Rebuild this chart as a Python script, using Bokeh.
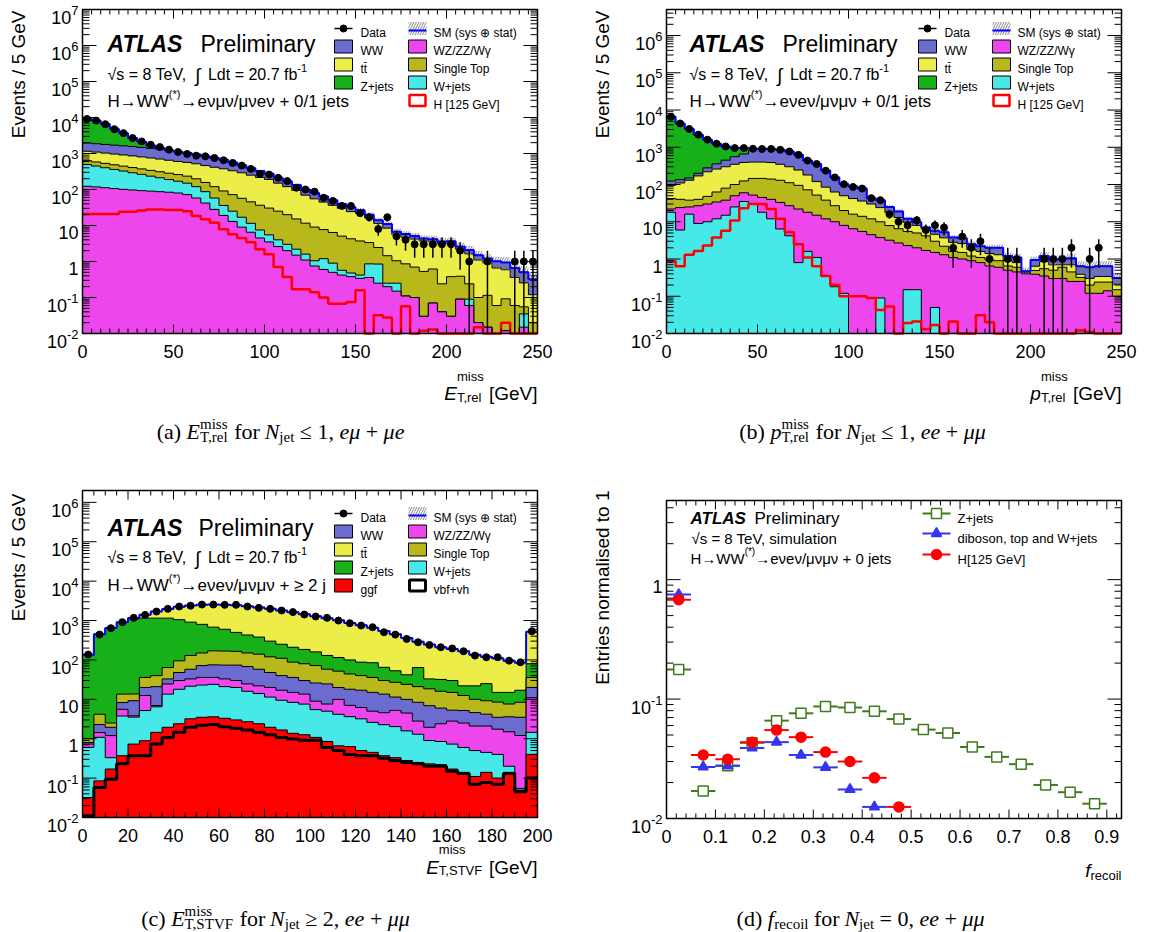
import math
import numpy as np
from bokeh.plotting import figure
from bokeh.models import Range1d, Label, LogScale
from bokeh.layouts import column, row
from bokeh.embed import file_html
from bokeh.resources import INLINE

SANS = "Liberation Sans"
SERIF = "Liberation Serif"

# ---------------- colours ----------------
C_WW = "#6b6bd0"
C_WZ = "#ec46ec"
C_TT = "#eded4a"
C_ST = "#b8b81c"
C_ZJ = "#18b018"
C_WJ = "#46e8e8"
C_GGF = "#ff0000"

# ---------------- panel (a): E_T,rel miss, N_jet <= 1, e mu ----------------
a_edges = np.arange(0, 255, 5)
a_data = [9140, 8220, 6510, 4740, 3680, 2680, 2170, 1750, 1510, 1280,
          1100, 970, 871, 835, 751, 648, 547, 462, 373, 272,
          260, 211, 171, 112, 100, 87, 59, 48, 35, 35,
          22, 17, 8, 17, 5, 4, 3, 3, 3, 3,
          3, 2, 1, 0, 1, 0, 0, 1, 1, 1]
a_wz = [123, 118, 112, 106, 101, 97, 93, 90, 87, 84,
        80, 72, 58, 42, 28, 19, 13, 9, 6.5, 4.5,
        3.5, 2.6, 2.0, 1.5, 1.1, 0.75, 0.6, 0.5, 0.42, 0.38,
        0.34, 0.36, 0.25, 0.2, 0.15, 0.11, 0.1, 0.03, 0.07, 0.04,
        0.03, 0.09, 0.06, 0.02, 0.015, 0.01, 0.012, 0.01, 0.015, 0.01]
a_wjets = [370, 330, 290, 255, 225, 195, 170, 145, 125, 105,
           90, 78, 62, 45, 30, 17, 12, 8, 5, 3,
           2, 1.4, 1.0, 0.7, 0.5, 0.3, 0.6, 0.4, 0.15, 0.1,
           0.08, 0.5, 0.6, 0.05, 0.1, 0, 0, 0, 0, 0,
           0, 0, 0.03, 0, 0, 0, 0, 0, 0.02, 0]
a_stop = [140, 135, 130, 125, 120, 115, 110, 105, 100, 95,
          90, 85, 78, 70, 62, 55, 47, 40, 34, 29,
          25, 21, 17, 13, 10, 8, 6.5, 5.5, 4.5, 3.8,
          3.3, 2.5, 1.6, 1.2, 0.8, 0.75, 0.6, 0.5, 0.55, 0.2,
          0.35, 0.3, 0.15, 0.08, 0.1, 0.05, 0.08, 0.05, 0.02, 0.01]
a_ttbar = [520, 510, 495, 480, 465, 450, 430, 410, 390, 365,
           340, 330, 320, 305, 295, 285, 260, 235, 205, 180,
           160, 125, 100, 80, 58, 46, 37, 30, 25, 20,
           18, 13, 9, 7, 4.5, 3.8, 3.5, 3.2, 3.0, 2.9,
           2.8, 1.8, 1.4, 1.0, 0.8, 0.6, 0.5, 0.3, 0.2, 0.1]
a_ww = [800, 780, 760, 740, 720, 700, 670, 640, 610, 560,
        510, 470, 420, 380, 340, 290, 230, 180, 140, 110,
        85, 62, 50, 38, 30, 25, 19, 14, 9, 8,
        5, 3.5, 2.5, 2.5, 1.2, 1.1, 0.9, 0.6, 0.5, 0.45,
        0.45, 0.4, 0.45, 0.4, 0.3, 0.35, 0.35, 0.3, 0.25, 0.2]
a_zjets = [7200, 6300, 4800, 3100, 2050, 1120, 640, 280, 110, 30,
           8, 3, 1.5, 1, 0.5, 0.3, 0.2, 0.1, 0, 0,
           0, 0, 0, 0, 0, 0, 0, 0, 0, 0,
           0, 0, 0, 0, 0, 0, 0, 0, 0, 0,
           0, 0, 0, 0, 0, 0, 0, 0, 0, 0]
a_higgs = [21, 21, 21, 21, 24, 24, 26, 28, 28, 27,
           27, 25, 18.5, 15, 12, 7.9, 5.7, 4.5, 3.4, 2.2,
           1.6, 0.7, 0.37, 0.17, 0.17, 0.14, 0.1, 0.067, 0.067, 0.075,
           0.16, 0, 0.032, 0.028, 0, 0.057, 0, 0.012, 0.013, 0,
           0, 0, 0, 0.015, 0, 0, 0.02, 0, 0, 0]
a_unc = [0.10, 0.10, 0.09, 0.09, 0.08, 0.08, 0.08, 0.08, 0.08, 0.08,
         0.08, 0.08, 0.08, 0.08, 0.08, 0.08, 0.08, 0.09, 0.09, 0.09,
         0.10, 0.10, 0.10, 0.11, 0.11, 0.12, 0.12, 0.13, 0.13, 0.14,
         0.15, 0.16, 0.17, 0.18, 0.20, 0.20, 0.22, 0.22, 0.25, 0.25,
         0.25, 0.28, 0.30, 0.30, 0.32, 0.35, 0.40, 0.45, 0.45, 0.45]

# ---------------- panel (b): p_T,rel miss, N_jet <= 1, ee+mumu ----------------
b_edges = np.arange(0, 255, 5)
b_data = [6590, 4350, 3110, 2180, 1600, 1245, 1050, 950, 950, 910,
          900, 900, 855, 770, 625, 440, 356, 235, 155, 102,
          86, 78, 43, 38, 16, 10, 8, 11, 6, 8,
          7, 2, 4, 2, 3, 1, 0, 1, 1, 0,
          0, 1, 1, 1, 2, 0, 1, 2, 0, 0]
b_wjets = [18, 6, 16, 9, 10, 12, 15, 25, 35, 30,
           18, 12, 6.4, 4.2, 0.8, 1.6, 1.1, 0.35, 0.18, 0.12,
           0, 0, 0, 0.09, 0, 0, 0.15, 0.15, 0, 0.05,
           0, 0, 0, 0, 0, 0, 0, 0, 0, 0,
           0, 0, 0, 0, 0, 0, 0, 0, 0, 0]
b_wz = [4, 18, 9, 18, 20, 22, 23, 25, 25, 22,
        27, 28, 26.6, 22.8, 21.2, 16.4, 13.9, 11.65, 9.82, 7.88,
        6.5, 5.5, 4.5, 3.7, 3.2, 2.7, 2.15, 1.85, 1.7, 1.45,
        1.3, 1.1, 1.0, 0.9, 0.8, 0.65, 0.6, 0.5, 0.45, 0.4,
        0.39, 0.35, 0.3, 0.3, 0.25, 0.25, 0.12, 0.12, 0.14, 0.1]
b_stop = [20, 16, 13, 13, 18, 29, 42, 50, 65, 94,
          101, 100, 97, 85, 73, 54, 37, 26, 17, 12,
          9.5, 8.5, 7.5, 6.2, 4.7, 3.8, 3.2, 3.0, 2.5, 1.5,
          0.9, 0.5, 0.5, 0.3, 0.3, 0.3, 0.3, 0.15, 0.15, 0.01,
          0.1, 0.2, 0.2, 0.3, 0.2, 0.07, 0.08, 0.12, 0.1, 0.05]
b_ttbar = [53, 70, 92, 130, 172, 197, 220, 250, 265, 254,
           254, 250, 220, 188, 150, 108, 68, 47, 36, 30,
           26, 22, 18, 14, 10.1, 6.5, 4.2, 3.0, 2.2, 1.6,
           1.5, 1.2, 1.1, 0.6, 0.5, 0.45, 0.4, 0.25, 0.2, 0.01,
           0.15, 0.3, 0.2, 0.1, 0.25, 0.07, 0.1, 0.1, 0.1, 0.06]
b_ww = [29, 25, 20, 30, 60, 100, 150, 210, 270, 450,
        500, 510, 505, 470, 380, 260, 236, 150, 92, 52,
        46, 42, 13, 14, 7, 6, 2.3, 1.7, 0.6, 1.1,
        1.5, 1.0, 1.0, 0.7, 0.6, 0.6, 0.7, 0.3, 0.3, 0.05,
        0.3, 0.35, 0.25, 0.3, 0.3, 0.25, 0.3, 0.3, 0.3, 0.1]
b_zjets = [6466, 4215, 2960, 1980, 1320, 885, 600, 390, 290, 60,
           10, 5, 3, 2, 1, 0.5, 0.3, 0.2, 0.1, 0,
           0, 0, 0, 0, 0, 0, 0, 0, 0, 0,
           0, 0, 0, 0, 0, 0, 0, 0, 0, 0,
           0, 0, 0, 0, 0.05, 0, 0, 0, 0, 0]
b_higgs = [0.88, 0.64, 1.3, 1.65, 2.3, 3.8, 5.7, 10.8, 23, 30,
           30, 22, 12, 5.2, 2.5, 1.1, 0.64, 0.35, 0.2, 0.1,
           0.1, 0.1, 0.09, 0.043, 0.053, 0, 0.019, 0.021, 0.013, 0.017,
           0, 0.021, 0, 0, 0.031, 0.02, 0, 0, 0, 0,
           0, 0, 0, 0, 0, 0.012, 0.011, 0, 0, 0]
b_unc = [0.10, 0.10, 0.10, 0.09, 0.09, 0.08, 0.08, 0.08, 0.08, 0.08,
         0.08, 0.08, 0.08, 0.08, 0.08, 0.08, 0.09, 0.09, 0.09, 0.10,
         0.10, 0.10, 0.11, 0.11, 0.12, 0.12, 0.13, 0.13, 0.14, 0.15,
         0.15, 0.16, 0.17, 0.18, 0.20, 0.20, 0.22, 0.22, 0.25, 0.25,
         0.25, 0.28, 0.30, 0.30, 0.32, 0.35, 0.35, 0.35, 0.35, 0.35]

# ---------------- panel (c): E_T,STVF miss, N_jet >= 2, ee+mumu ----------------
c_edges = np.arange(0, 205, 5)
c_data = [137, 440, 640, 910, 1170, 1390, 1690, 1980, 2270, 2380,
          2550, 2550, 2500, 2500, 2270, 2100, 1980, 1795, 1640, 1420,
          1265, 1170, 1000, 855, 746, 677, 505, 440, 342, 281,
          240, 210, 196, 166, 129, 117, 117, 96, 87, 535]
c_vbf = [0.011, 0.058, 0.094, 0.23, 0.37, 0.37, 0.73, 1.08, 1.45, 1.95,
         2.2, 2.3, 2.0, 1.85, 1.67, 1.45, 1.26, 1.08, 0.98, 0.92,
         0.92, 0.6, 0.5, 0.4, 0.37, 0.37, 0.32, 0.28, 0.25, 0.23,
         0.2, 0.2, 0.15, 0.13, 0.07, 0.077, 0.07, 0.13, 0.045, 0.1]
c_ggf = [0.021, 0.027, 0.076, 0.14, 0.36, 0.52, 0.72, 0.87, 0.95, 1.25,
         1.3, 1.3, 1.3, 1.15, 1.03, 0.95, 0.69, 0.59, 0.39, 0.34,
         0.16, 0.25, 0.16, 0.23, 0.13, 0.08, 0.05, 0.05, 0.03, 0.02,
         0.03, 0.02, 0.02, 0.01, 0.04, 0.063, 0.03, 0.01, 0.005, 0.3]
c_wjets = [0.57, 1.0, 0.16, 3.4, 2.8, 4.3, 5.0, 11.6, 15.6, 18.3,
           19.5, 20.4, 17.7, 17, 13.3, 11.6, 9.45, 7.8, 7.0, 6.3,
           4.4, 4.15, 3.5, 3.0, 2.7, 2.15, 1.9, 1.7, 1.3, 1.05,
           0.67, 0.63, 0.56, 0.46, 0.39, 0.31, 0.3, 0.06, 0.005, 1.05]
c_wz = [0.13, 0.35, 0.87, 1.8, 0.3, 7.3, 0.5, 11, 12, 11.5,
        13, 12, 12, 10, 8.6, 8, 8.6, 7.5, 6.6, 6,
        3.5, 2.6, 5.8, 3.4, 3.0, 2.4, 2.3, 3.2, 2.9, 1.5,
        1.05, 1.55, 2.07, 1.9, 1.6, 1.65, 1.35, 1.3, 1.15, 9.55]
c_ww = [0.07, 0.85, 0.75, 2.7, 5.4, 7.5, 14, 8.4, 18, 25,
        36, 39, 41, 44, 43.4, 36, 28, 23, 21, 16.4,
        17, 17, 10, 11, 10.8, 10, 9, 6.2, 5.5, 5.6,
        4.95, 3.6, 2.5, 2.7, 2.5, 2.1, 1.75, 2.1, 2.3, 9]
c_stop = [0.2, 1.9, 0.55, 5.3, 4.4, 16, 19, 31, 47, 72,
          78, 95, 94, 91, 82, 82, 72, 70, 52, 50,
          46, 33.4, 32, 26, 23, 21, 16.4, 15.6, 14, 12.6,
          11.6, 10, 9.7, 7.3, 5.4, 5.0, 5.0, 4.0, 4.9, 16]
c_zjets = [129, 436, 637, 886, 1086, 1114, 1110, 1086, 955, 780,
           650, 510, 432, 335, 280, 240, 180, 140, 122, 105,
           88, 72, 63, 56, 48, 49, 35, 26, 18, 43,
           14.5, 16, 15, 9.5, 12, 15.8, 6.5, 7.4, 8.6, 44]
c_ttbar = [5, 10, 10, 10, 60, 250, 550, 800, 1200, 1490,
           1700, 1870, 1900, 1950, 1870, 1770, 1700, 1550, 1410, 1265,
           1120, 1020, 895, 770, 672, 575, 475, 397, 318, 226,
           212, 178, 160, 143, 113, 95, 95, 80, 68, 440]
c_unc = [0.10, 0.10, 0.08, 0.07, 0.06, 0.06, 0.06, 0.06, 0.06, 0.06,
         0.06, 0.06, 0.06, 0.06, 0.06, 0.06, 0.06, 0.06, 0.06, 0.06,
         0.06, 0.06, 0.06, 0.06, 0.06, 0.06, 0.07, 0.07, 0.07, 0.07,
         0.07, 0.08, 0.08, 0.08, 0.08, 0.08, 0.09, 0.09, 0.09, 0.06]

# ---------------- panel (d): f_recoil, N_jet = 0 ----------------
d_zj_x = [0.025, 0.075, 0.125, 0.175, 0.225, 0.275, 0.325, 0.375, 0.425,
          0.475, 0.525, 0.575, 0.625, 0.675, 0.725, 0.775, 0.825, 0.875]
d_zjets = [0.177, 0.017, 0.0276, 0.043, 0.066, 0.076, 0.0867, 0.085, 0.079,
           0.068, 0.0555, 0.052, 0.0397, 0.0328, 0.0285, 0.0191, 0.0166, 0.0133]
d_db_x = [0.025, 0.075, 0.125, 0.175, 0.225, 0.275, 0.325, 0.375, 0.425]
d_diboson = [0.75, 0.027, 0.0276, 0.039, 0.0436, 0.034, 0.0268, 0.0175, 0.0125]
d_h_x = [0.025, 0.075, 0.125, 0.175, 0.225, 0.275, 0.325, 0.375, 0.425, 0.475]
d_higgs = [0.68, 0.034, 0.0314, 0.0436, 0.055, 0.048, 0.036, 0.030, 0.0219, 0.0125]
d_halfwidth = 0.025

# ---------------- text width helpers ----------------
SANS_W = {' ': .278, '(': .333, ')': .333, '*': .389, '+': .584, ',': .278, '-': .333,
          '.': .278, '/': .278, '=': .584, '[': .278, ']': .278, '\u0304': 0.0,
          'A': .667, 'E': .667, 'G': .778, 'H': .722, 'L': .556, 'N': .722, 'P': .667,
          'S': .667, 'T': .611, 'V': .667, 'W': .944, 'Z': .611, 'F': .611,
          'a': .556, 'b': .556, 'c': .5, 'd': .556, 'e': .556, 'f': .278, 'g': .556,
          'i': .222, 'j': .222, 'l': .222, 'm': .833, 'n': .556, 'o': .556, 'p': .556,
          'r': .333, 's': .5, 't': .278, 'u': .556, 'v': .5, 'y': .5,
          '\u2192': 1.0, '\u03bd': .5, '\u03bc': .576, '\u03b3': .5, '\u2264': .584,
          '\u2265': .584, '\u222b': .45, '\u221a': .549, '\u2295': .8}
SERIF_W = {' ': .25, '(': .333, ')': .333, ',': .25, '+': .564, '=': .564, '.': .25,
           'E': .611, 'F': .556, 'N': .667, 'S': .556, 'T': .611, 'V': .722,
           'a': .444, 'b': .5, 'c': .444, 'd': .5, 'e': .444, 'f': .3, 'i': .278,
           'j': .278, 'l': .278, 'm': .778, 'n': .5, 'o': .5, 'p': .5, 'r': .333,
           's': .389, 't': .278, '\u2264': .549, '\u2265': .549, '\u03bc': .5}


def tw(s, size, serif=False, style="normal"):
    if not s:
        return 0.0
    tab = SERIF_W if serif else SANS_W
    dflt = 0.5 if serif else 0.556
    w = sum(tab.get(ch, dflt) for ch in s)
    if "bold" in style:
        w *= 1.06
    return float(w * size)


W, H = 575, 466


class Panel:
    """A figure whose frame is the whole canvas; the histogram box is drawn inside it."""

    def __init__(self, L, R, T, B, xr, yr):
        self.L, self.R, self.T, self.B = L, R, T, B
        self.x0, self.x1 = xr
        self.y0, self.y1 = yr
        self.kx = (self.x1 - self.x0) / (R - L)
        self.l0, self.l1 = math.log10(self.y0), math.log10(self.y1)
        self.ky = (self.l1 - self.l0) / (B - T)
        xs = self.x0 - L * self.kx
        xe = self.x1 + (W - R) * self.kx
        ys = 10 ** (self.l0 - (H - B) * self.ky)
        ye = 10 ** (self.l1 + T * self.ky)
        p = figure(width=W, height=H, x_range=Range1d(xs, xe), y_range=Range1d(ys, ye),
                   y_axis_type="log", x_axis_location=None, y_axis_location=None,
                   min_border=0, output_backend="svg", toolbar_location=None, title=None)
        p.y_scale = LogScale()
        p.grid.visible = False
        p.outline_line_color = None
        p.background_fill_color = "white"
        p.border_fill_color = "white"
        self.p = p

    def px(self, x):
        return self.L + (x - self.x0) / self.kx

    def py(self, y):
        return self.B - (math.log10(y) - self.l0) / self.ky

    def xd(self, px):
        return self.x0 + (px - self.L) * self.kx

    def yd(self, py):
        return 10 ** (self.l0 + (self.B - py) * self.ky)

    def up(self, y, pix):
        return y * 10 ** (pix * self.ky)


def T(P, px, py, text, size, font=SANS, style="normal", align="left",
      baseline="alphabetic", angle=0.0, color="black"):
    P.p.add_layout(Label(x=float(px), y=float(H - py), x_units="screen", y_units="screen",
                         text=text, text_font=font, text_font_size=f"{size}px",
                         text_font_style=style, text_align=align,
                         text_baseline=baseline, angle=float(angle), text_color=color))


def rich(P, px0, py0, pieces, serif=False, align="left"):
    font = SERIF if serif else SANS

    def width(pc):
        if pc[0] == "t":
            return tw(pc[1], pc[2], serif, pc[3])
        return max(tw(pc[1], pc[3], serif), tw(pc[2], pc[3], serif))

    total = sum(width(pc) for pc in pieces)
    x = px0 - total / 2 if align == "center" else (px0 - total if align == "right" else px0)
    for pc in pieces:
        if pc[0] == "t":
            _, txt, size, style, dy = pc
            lead = len(txt) - len(txt.lstrip(" "))
            core = txt.strip(" ")
            if core:
                T(P, x + tw(" " * lead, size, serif), py0 - dy, core, size, font, style)
        else:
            _, sup, sub, size, sdy, bdy = pc
            if sup:
                T(P, x, py0 - sdy, sup, size, font)
            if sub:
                T(P, x, py0 - bdy, sub, size, font)
        x += width(pc)


def draw_frame(P, xmajor, xminor, xlabels, xtl=(9, 5), ytl=(14, 7)):
    p = P.p
    x0, x1, y0, y1 = P.x0, P.x1, P.y0, P.y1
    sx0, sy0, sx1, sy1 = [], [], [], []
    majset = set(round(v, 6) for v in xmajor)
    ticks = [(v, xtl[0]) for v in xmajor] + [(v, xtl[1]) for v in xminor if round(v, 6) not in majset]
    for v, ln in ticks:
        if v < x0 - 1e-9 or v > x1 + 1e-9:
            continue
        sx0 += [v, v]
        sx1 += [v, v]
        sy0 += [y0, y1]
        sy1 += [P.up(y0, ln), P.up(y1, -ln)]
    for e in range(math.floor(P.l0), math.ceil(P.l1) + 1):
        for m in range(1, 10):
            v = m * 10.0 ** e
            if v < y0 * 0.999 or v > y1 * 1.001:
                continue
            ln = ytl[0] if m == 1 else ytl[1]
            sx0 += [x0, x1]
            sx1 += [x0 + ln * P.kx, x1 - ln * P.kx]
            sy0 += [v, v]
            sy1 += [v, v]
    p.segment(x0=sx0, y0=sy0, x1=sx1, y1=sy1, line_color="black", line_width=1)
    p.line([x0, x1, x1, x0, x0], [y0, y0, y1, y1, y0], line_color="black", line_width=1.5)
    for v, s in zip(xmajor, xlabels):
        T(P, P.px(v), P.B + 18, s, 18, align="center")
    xr = P.L - 4
    for e in range(math.floor(P.l0), math.ceil(P.l1) + 1):
        v = 10.0 ** e
        if v < y0 * 0.999 or v > y1 * 1.001:
            continue
        ty = P.py(v)
        if e == 0 or e == 1:
            T(P, xr, ty + 7, str(int(round(v))), 18, align="right")
        else:
            ex = str(e)
            wexp = tw(ex, 13)
            T(P, xr, ty + 1, ex, 13, align="right")
            T(P, xr - wexp, ty + 8, "10", 18, align="right")


def step_xy(edges, vals):
    e = np.asarray(edges, float)
    v = np.asarray(vals, float)
    return np.repeat(e, 2)[1:-1], np.repeat(v, 2)


def draw_stack(P, edges, comps):
    fl = P.y0
    cum = np.zeros(len(edges) - 1)
    tops = []
    for c in comps:
        cum = cum + np.asarray(c["v"], float)
        tops.append(cum.copy())
    for c, top in reversed(list(zip(comps, tops))):
        xs, ys = step_xy(edges, np.maximum(top, fl))
        if c.get("fill"):
            P.p.varea(x=xs, y1=np.full(len(ys), fl), y2=ys, fill_color=c["fill"], fill_alpha=1.0)
        P.p.line(xs, ys, line_color="black", line_width=c.get("lw", 1.0))
    return tops[-1]


HATCH = dict(hatch_pattern="/", hatch_color="#777777", hatch_alpha=0.9, hatch_scale=5, hatch_weight=1)


def draw_band(P, edges, total, unc):
    fl = P.y0
    total = np.asarray(total, float)
    unc = np.asarray(unc, float)
    xs, lo = step_xy(edges, np.maximum(total * (1 - unc), fl))
    _, hi = step_xy(edges, np.maximum(total * (1 + unc), fl))
    P.p.varea(x=xs, y1=lo, y2=hi, fill_color=None, fill_alpha=0, **HATCH)
    _, yt = step_xy(edges, np.maximum(total, fl))
    P.p.line(xs, yt, line_color="#0000ff", line_width=2)


def draw_data(P, edges, counts):
    e = np.asarray(edges, float)
    cen = (e[:-1] + e[1:]) / 2
    n = np.asarray(counts, float)
    m = n > 0
    err = np.sqrt(n[m])
    P.p.segment(x0=cen[m], x1=cen[m], y0=np.maximum(n[m] - err, P.y0), y1=n[m] + err,
                line_color="black", line_width=1.5)
    P.p.scatter(cen[m], n[m], marker="circle", size=7, fill_color="black", line_color="black")


def draw_signal(P, edges, vals):
    xs, ys = step_xy(edges, np.maximum(np.asarray(vals, float), P.y0))
    P.p.line(xs, ys, line_color="#ff0000", line_width=2.5)


# ---------------- hand-built legends (key boxes placed in pixel layout) ----------------
def lg_box(P, bx, cy, fill, line="black", lw=1.0, w=18, h=13, hatch=False):
    kw = dict(HATCH) if hatch else {}
    P.p.quad(left=[P.xd(bx)], right=[P.xd(bx + w)], bottom=[P.yd(cy + h / 2)],
             top=[P.yd(cy - h / 2)], fill_color=fill, fill_alpha=1.0 if fill else 0.0,
             line_color=line, line_width=lw, **kw)


def lg_text(P, tx, cy, text, fs=12):
    T(P, tx, cy + fs * 0.36, text, fs)


def hist_legend(P, c1, c2, cy0, dy, extra_left, last_right):
    rows = [cy0 + i * dy for i in range(5)]
    p = P.p
    p.line([P.xd(c1), P.xd(c1 + 18)], [P.yd(rows[0])] * 2, line_color="black", line_width=1.5)
    p.scatter([P.xd(c1 + 9)], [P.yd(rows[0])], marker="circle", size=7,
              fill_color="black", line_color="black")
    lg_text(P, c1 + 26, rows[0], "Data")
    for i, (col, name) in enumerate([(C_WW, "WW"), (C_TT, "tt\u0304"), (C_ZJ, "Z+jets")]):
        lg_box(P, c1, rows[i + 1], col)
        lg_text(P, c1 + 26, rows[i + 1], name)
    if extra_left:
        lg_box(P, c1, rows[4], extra_left[0])
        lg_text(P, c1 + 26, rows[4], extra_left[1])
    lg_box(P, c2, rows[0], None, line=None, lw=0, hatch=True)
    p.line([P.xd(c2), P.xd(c2 + 18)], [P.yd(rows[0] + 2)] * 2, line_color="#0000ff", line_width=2)
    lg_text(P, c2 + 25, rows[0], "SM (sys \u2295 stat)")
    for i, (col, name) in enumerate([(C_WZ, "WZ/ZZ/W\u03b3"), (C_ST, "Single Top"), (C_WJ, "W+jets")]):
        lg_box(P, c2, rows[i + 1], col)
        lg_text(P, c2 + 25, rows[i + 1], name)
    col, lw, name = last_right
    lg_box(P, c2 + 1, rows[4], None, line=col, lw=lw, w=16, h=11)
    lg_text(P, c2 + 25, rows[4], name)


def atlas(P, x, y, size, px2):
    T(P, x, y, "ATLAS", size, SANS, "bold italic")
    T(P, px2, y, "Preliminary", size, SANS, "normal")


def ytitle(P, x, py_top, text):
    T(P, x, py_top, text, 19, SANS, "normal", align="right", baseline="middle", angle=math.pi / 2)


def lumi_lines(P, x, py1, py2, channel):
    rich(P, x, py1, [("t", "\u221as = 8 TeV,", 16, "normal", 0), ("t", " \u222b", 19, "normal", -1),
                     ("t", " Ldt = 20.7 fb", 16, "normal", 0), ("ss", "-1", None, 11, 7, 0)])
    rich(P, x, py2, [("t", "H\u2192WW", 17, "normal", 0), ("ss", "(*)", None, 11, 8, 0),
                     ("t", channel, 17, "normal", 0)])


CF, CS = 22, 15


def caption(P, cx, py, letter, var_pieces, rel, chan):
    pieces = [("t", f"({letter}) ", CF, "normal", 0)] + var_pieces + [
        ("t", " for ", CF, "normal", 0), ("t", "N", CF, "italic", 0),
        ("ss", None, "jet", CS, 0, -5), ("t", rel, CF, "normal", 0),
        ("t", chan[0], CF, "italic", 0), ("t", " + ", CF, "normal", 0),
        ("t", chan[1], CF, "italic", 0)]
    rich(P, cx, py, pieces, serif=True, align="center")


X50 = list(range(0, 251, 50))
X5 = list(range(0, 251, 5))

# ======================= panel a =======================
PA = Panel(82, 537, 9, 333, (0, 250), (1e-2, 1e7))
tot_a = draw_stack(PA, a_edges, [
    {"v": a_wz, "fill": C_WZ}, {"v": a_wjets, "fill": C_WJ}, {"v": a_stop, "fill": C_ST},
    {"v": a_ttbar, "fill": C_TT}, {"v": a_ww, "fill": C_WW}, {"v": a_zjets, "fill": C_ZJ}])
draw_band(PA, a_edges, tot_a, a_unc)
draw_signal(PA, a_edges, a_higgs)
draw_data(PA, a_edges, a_data)
draw_frame(PA, X50, X5, [str(v) for v in X50])
hist_legend(PA, 334, 408, 28, 18, None, ("#ff0000", 2.5, "H [125 GeV]"))
atlas(PA, 107, 43, 23, 200)
lumi_lines(PA, 107, 74, 101, "\u2192e\u03bd\u03bc\u03bd/\u03bc\u03bde\u03bd + 0/1 jets")
ytitle(PA, 18, 10, "Events / 5 GeV")
rich(PA, 537, 393, [("t", "E", 19, "italic", 0), ("ss", "miss", "T,rel", 13, 17, -4),
                    ("t", " [GeV]", 19, "normal", 0)], align="right")
caption(PA, 280, 431, "a", [("t", "E", CF, "italic", 0), ("ss", "miss", "T,rel", CS, 8, -5)],
        " \u2264 1, ", ("e\u03bc", "\u03bce"))

# ======================= panel b =======================
PB = Panel(91, 546, 9, 333, (0, 250), (1e-2, 5e6))
tot_b = draw_stack(PB, b_edges, [
    {"v": b_wjets, "fill": C_WJ}, {"v": b_wz, "fill": C_WZ}, {"v": b_stop, "fill": C_ST},
    {"v": b_ttbar, "fill": C_TT}, {"v": b_ww, "fill": C_WW}, {"v": b_zjets, "fill": C_ZJ}])
draw_band(PB, b_edges, tot_b, b_unc)
draw_signal(PB, b_edges, b_higgs)
draw_data(PB, b_edges, b_data)
draw_frame(PB, X50, X5, [str(v) for v in X50])
hist_legend(PB, 343, 417, 28, 18, None, ("#ff0000", 2.5, "H [125 GeV]"))
atlas(PB, 114, 43, 23, 207)
lumi_lines(PB, 114, 74, 101, "\u2192e\u03bde\u03bd/\u03bc\u03bd\u03bc\u03bd + 0/1 jets")
ytitle(PB, 27, 10, "Events / 5 GeV")
rich(PB, 546, 393, [("t", "p", 19, "italic", 0), ("ss", "miss", "T,rel", 13, 17, -4),
                    ("t", " [GeV]", 19, "normal", 0)], align="right")
caption(PB, 287, 431, "b", [("t", "p", CF, "italic", 0), ("ss", "miss", "T,rel", CS, 8, -5)],
        " \u2264 1, ", ("ee", "\u03bc\u03bc"))

# ======================= panel c =======================
X20 = list(range(0, 201, 20))
X5c = list(range(0, 201, 5))
PC = Panel(82, 537, 24, 351, (0, 200), (1e-2, 2e6))
tot_c = draw_stack(PC, c_edges, [
    {"v": c_vbf, "fill": None, "lw": 3}, {"v": c_ggf, "fill": C_GGF},
    {"v": c_wjets, "fill": C_WJ}, {"v": c_wz, "fill": C_WZ}, {"v": c_ww, "fill": C_WW},
    {"v": c_stop, "fill": C_ST}, {"v": c_zjets, "fill": C_ZJ}, {"v": c_ttbar, "fill": C_TT}])
draw_band(PC, c_edges, tot_c, c_unc)
draw_data(PC, c_edges, c_data)
draw_frame(PC, X20, X5c, [str(v) for v in X20])
hist_legend(PC, 334, 408, 47, 18, (C_GGF, "ggf"), ("black", 3, "vbf+vh"))
atlas(PC, 107, 61, 23, 198)
lumi_lines(PC, 107, 91, 119, "\u2192e\u03bde\u03bd/\u03bc\u03bd\u03bc\u03bd + \u2265 2 j")
ytitle(PC, 18, 27, "Events / 5 GeV")
rich(PC, 537, 401, [("t", "E", 19, "italic", 0), ("ss", "miss", "T,STVF", 13, 18, -3),
                    ("t", " [GeV]", 19, "normal", 0)], align="right")
caption(PC, 275, 452, "c", [("t", "E", CF, "italic", 0), ("ss", "miss", "T,STVF", CS, 8, -5)],
        " \u2265 2, ", ("ee", "\u03bc\u03bc"))

# ======================= panel d =======================
XD = [0, 0.1, 0.2, 0.3, 0.4, 0.5, 0.6, 0.7, 0.8, 0.9]
XDm = [round(0.02 * i, 2) for i in range(47)]
PD = Panel(91, 546, 34, 352, (0, 0.93), (1e-2, 4.6))
G_D = "#3f7a1f"
B_D = "#3535f0"
R_D = "#ff0000"
pd_ = PD.p
series_d = [(d_zj_x, d_zjets, G_D, "square", "white"),
            (d_db_x, d_diboson, B_D, "triangle", B_D),
            (d_h_x, d_higgs, R_D, "circle", R_D)]
for xs_, ys_, col, mk, fc in series_d:
    xa = np.asarray(xs_)
    pd_.segment(x0=xa - d_halfwidth, x1=xa + d_halfwidth, y0=ys_, y1=ys_,
                line_color=col, line_width=2)
for xs_, ys_, col, mk, fc in series_d:
    pd_.scatter(xs_, ys_, marker=mk, size=10, fill_color=fc, line_color=col, line_width=1.5)
draw_frame(PD, XD, XDm, ["0"] + [f"{v:.1f}" for v in XD[1:]])
for (xs_, ys_, col, mk, fc), cy, name in zip(series_d, [47, 67, 88],
                                             ["Z+jets", "diboson, top and W+jets", "H[125 GeV]"]):
    pd_.line([PD.xd(347), PD.xd(375)], [PD.yd(cy)] * 2, line_color=col, line_width=2)
    pd_.scatter([PD.xd(361)], [PD.yd(cy)], marker=mk, size=10, fill_color=fc,
                line_color=col, line_width=1.5)
    lg_text(PD, 382, cy, name, 13)
atlas(PD, 115, 52, 17, 179)
T(PD, 116, 72, "\u221as = 8 TeV, simulation", 15)
rich(PD, 115, 92, [("t", "H\u2192WW", 15, "normal", 0), ("ss", "(*)", None, 10, 7, 0),
                   ("t", "\u2192e\u03bde\u03bd/\u03bc\u03bd\u03bc\u03bd + 0 jets", 15, "normal", 0)])
ytitle(PD, 27, 24, "Entries normalised to 1")
rich(PD, 546, 404, [("t", "f", 19, "italic", 0), ("ss", None, "recoil", 13, 0, -5)], align="right")
caption(PD, 285, 452, "d", [("t", "f", CF, "italic", 0), ("ss", None, "recoil", CS, 0, -5)],
        " = 0, ", ("ee", "\u03bc\u03bc"))

layout = column(row(PA.p, PB.p), row(PC.p, PD.p))
open("out.html", "w").write(file_html(layout, INLINE, "ATLAS H->WW"))
